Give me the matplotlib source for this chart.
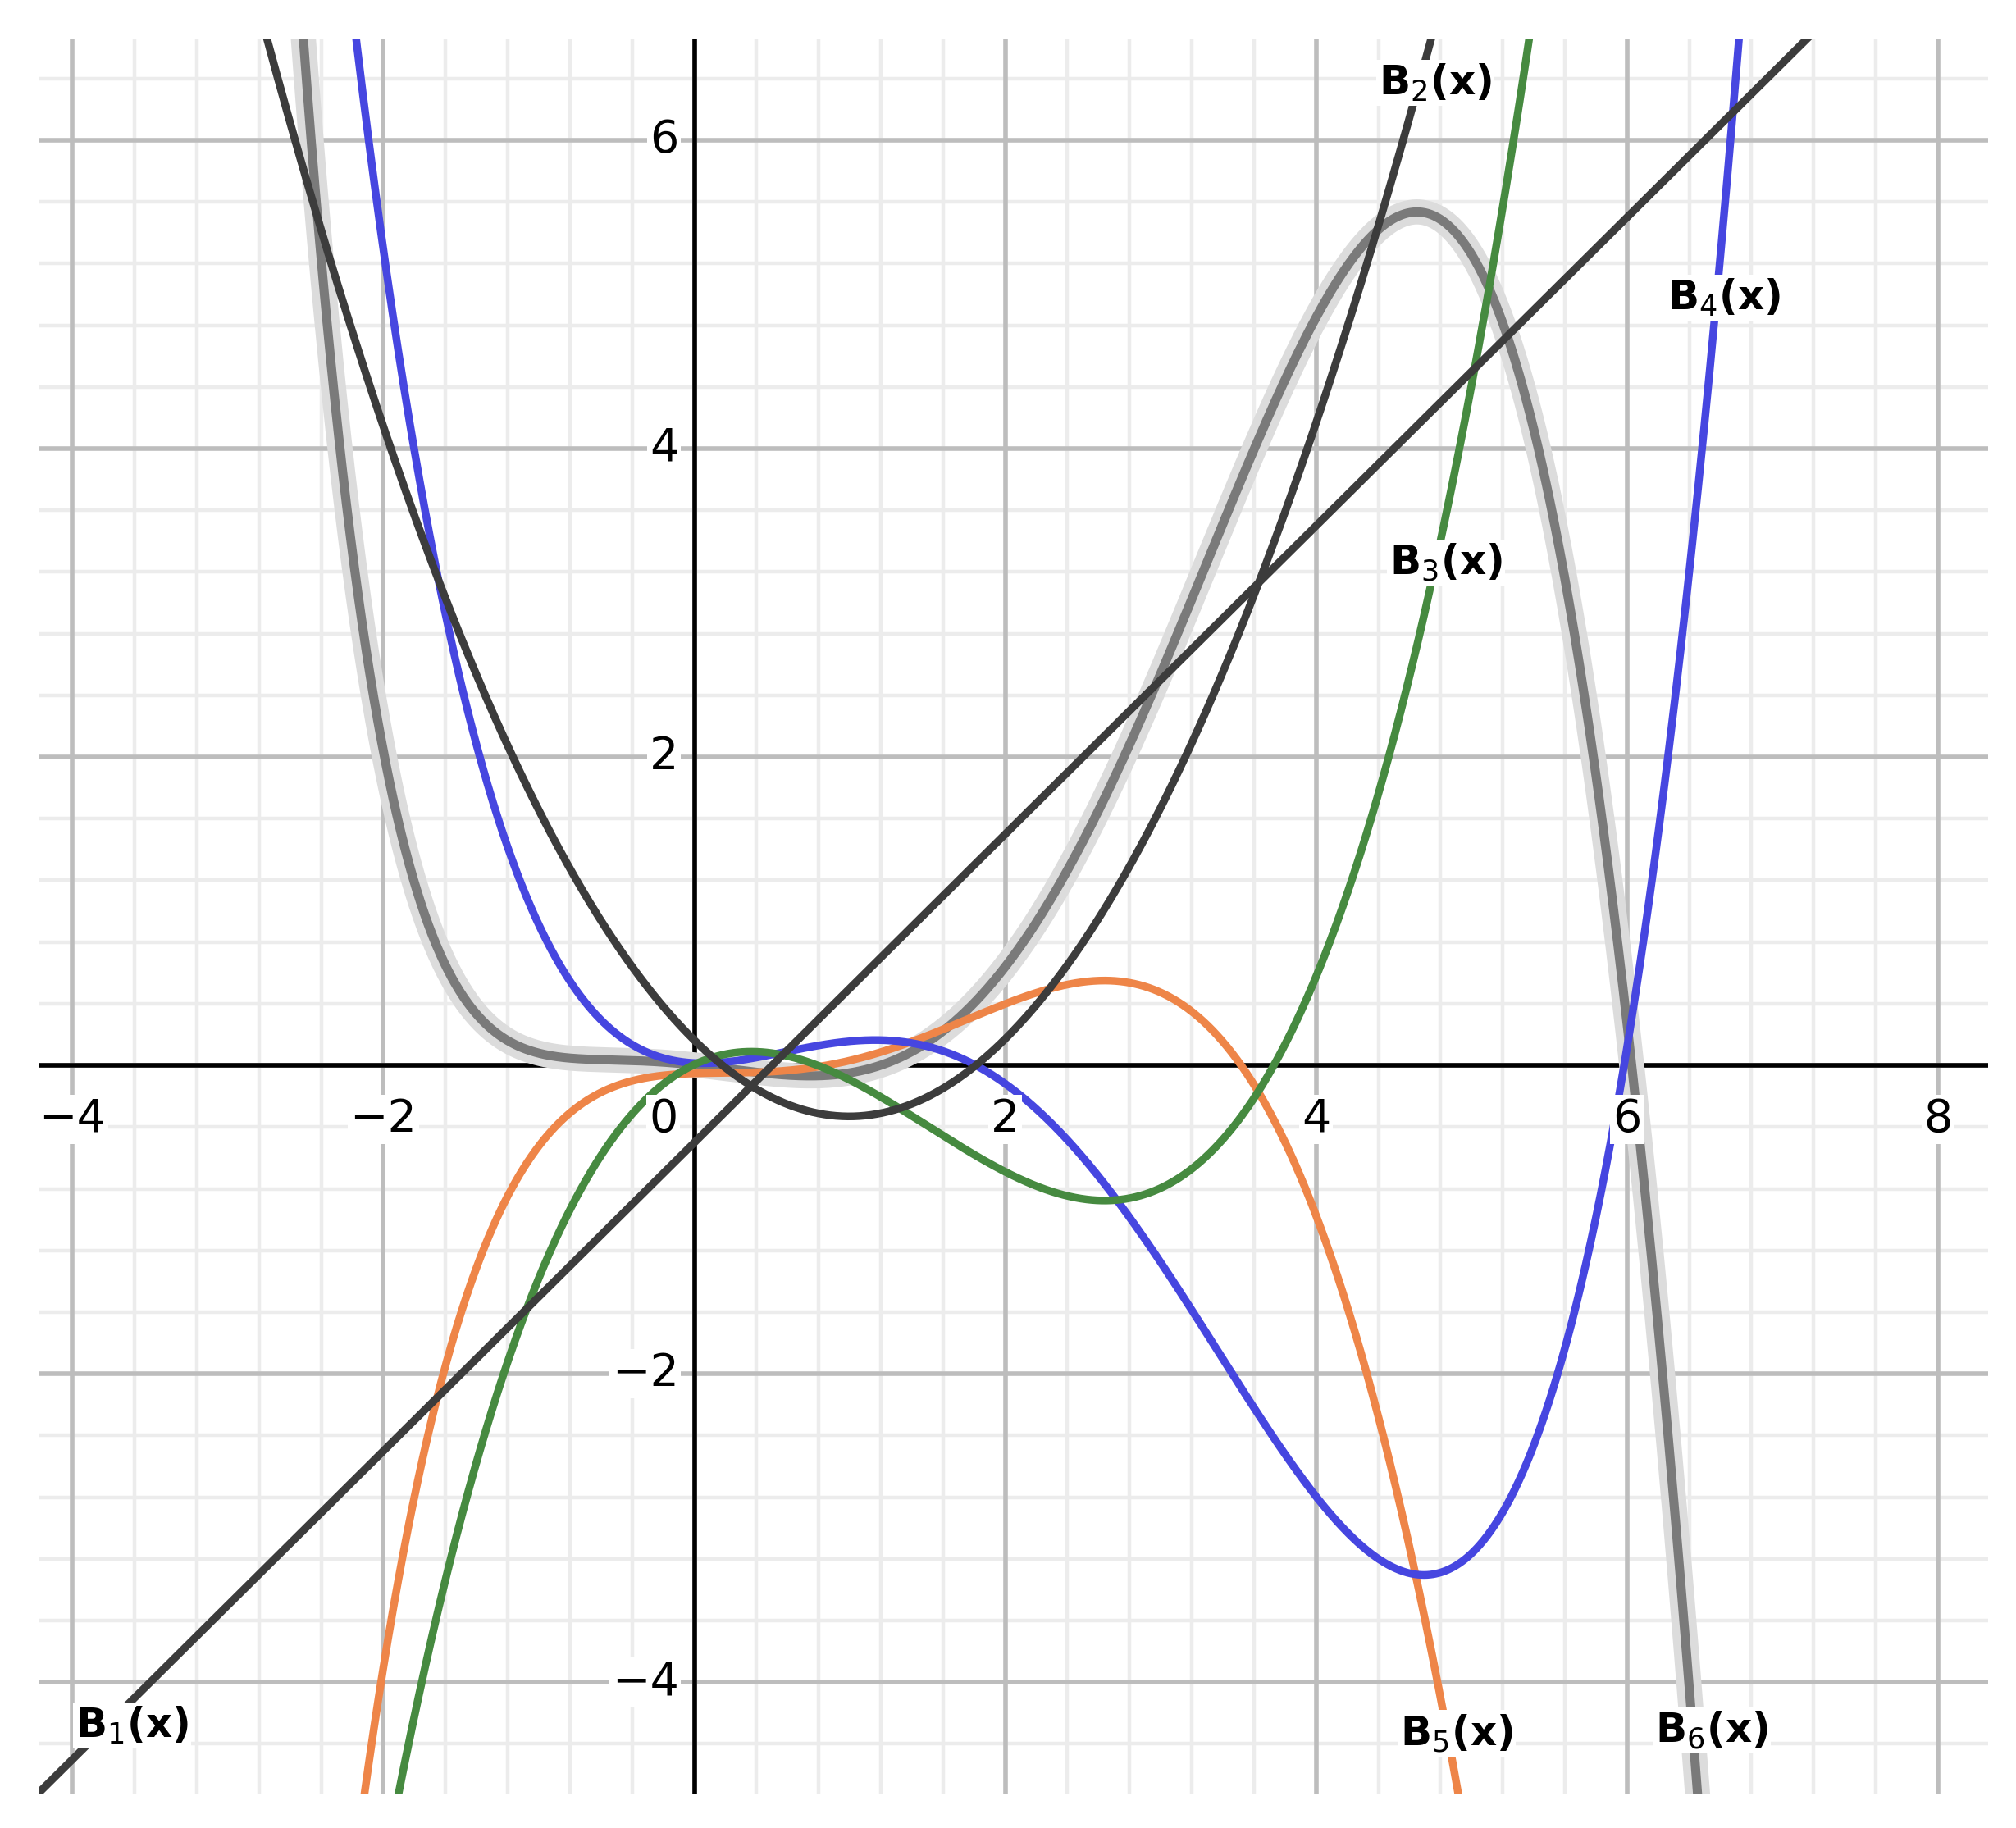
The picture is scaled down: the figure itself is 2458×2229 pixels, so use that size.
import numpy as np
import matplotlib.pyplot as plt

# points for each curve (x, y)
b1_x = [-4.0, 6.0]
b1_y = [-4.5, 5.5]
b2_x = [-2.0, 0.0, 0.9, 2.0, 4.0]
b2_y = [4.14, 0.17, -0.33, 0.17, 4.17]
b3_x = [-1.89, -1.1, 0.0, 0.36, 1.2, 2.55, 3.63, 4.0, 4.75, 5.35]
b3_y = [-4.68, -1.56, -0.09, 0.1, -0.2, -0.85, 0.0, 0.44, 3.08, 6.59]
b4_x = [-2.16, -1.66, -1.0, -0.5, 0.0, 1.28, 2.06, 2.76, 3.3, 4.72, 5.96, 6.72]
b4_y = [6.59, 3.15, 0.89, 0.17, 0.02, 0.21, 0.0, -0.88, -2.05, -3.26, 0.0, 6.59]
b5_x = [-2.12, -1.66, -1.1, -0.5, -0.2, 0.0, 0.5, 1.0, 1.5, 2.6, 3.55, 4.0, 4.91]
b5_y = [-4.68, -2.2, -0.77, -0.05, -0.01, -0.01, -0.03, -0.05, 0.1, 0.66, 0.0, -1.07, -4.68]
b6_x = [-2.51, -2.0, -1.5, -1.0, -0.6, 0.0, 0.5, 1.0, 1.5, 2.06, 3.0, 4.0, 4.72, 5.3, 5.7, 6.03, 6.45]
b6_y = [6.59, 2.02, 0.51, 0.06, 0.0, 0.0, 0.0, 0.0, 0.1, 0.59, 2.78, 4.59, 5.72, 4.44, 2.55, 0.0, -4.68]

labels = ["B$_1$(x)", "B$_2$(x)", "B$_3$(x)", "B$_4$(x)", "B$_5$(x)", "B$_6$(x)"]
label_pos = [(-3.98, -4.28), (4.4, 6.37), (4.47, 3.26), (6.26, 4.98), (4.54, -4.33), (6.18, -4.31)]

xmin, xmax, ymin, ymax = -4.22, 8.32, -4.72, 6.66

fig = plt.figure(figsize=(12.29, 11.145), dpi=200)
ax = fig.add_axes([0.019, 0.019, 0.967, 0.96])
ax.set_xlim(xmin, xmax)
ax.set_ylim(ymin, ymax)

# grid
for v in np.arange(-4.0, 8.4, 0.4):
    ax.axvline(v, color="#ececec", lw=1.6, zorder=0)
for v in np.arange(-4.4, 6.8, 0.4):
    ax.axhline(v, color="#ececec", lw=1.6, zorder=0)
for v in range(-4, 9, 2):
    ax.axvline(v, color="#bdbdbd", lw=2, zorder=0)
for v in range(-4, 7, 2):
    ax.axhline(v, color="#bdbdbd", lw=2, zorder=0)
ax.axhline(0, color="black", lw=2, zorder=1)
ax.axvline(0, color="black", lw=2, zorder=1)

xs = np.linspace(xmin, xmax, 2000)

def curve(px, py, deg):
    c = np.polyfit(px, py, deg)
    return np.polyval(c, xs)

b6 = curve(b6_x, b6_y, 8)
ax.plot(xs, b6, color="#dcdcdc", lw=11, zorder=2, solid_capstyle="round")
ax.plot(xs, b6, color="#7a7a7a", lw=4, zorder=3)
ax.plot(xs, curve(b5_x, b5_y, 5), color="#ee8548", lw=3.4, zorder=4)
ax.plot(xs, curve(b4_x, b4_y, 4), color="#4646e0", lw=3.4, zorder=4)
ax.plot(xs, curve(b3_x, b3_y, 3), color="#468a40", lw=3.4, zorder=4)
ax.plot(xs, curve(b2_x, b2_y, 2), color="#3c3c3c", lw=3.4, zorder=4)
ax.plot(xs, curve(b1_x, b1_y, 1), color="#3c3c3c", lw=3.4, zorder=4)

for t, (lx, ly) in zip(labels, label_pos):
    ax.text(lx, ly, t, fontsize=18, fontweight="bold", ha="left", va="center", zorder=6,
            bbox=dict(facecolor="white", edgecolor="none", pad=1))

# tick labels next to the axes
for v in range(-4, 9, 2):
    s = "0" if v == 0 else str(v).replace("-", "\u2212")
    ax.text(v - (0.2 if v == 0 else 0), -0.35, s, fontsize=20, ha="center", va="center",
            zorder=5, bbox=dict(facecolor="white", edgecolor="none", pad=1))
for v in [-4, -2, 2, 4, 6]:
    ax.text(-0.1, v, str(v).replace("-", "\u2212"), fontsize=20, ha="right", va="center",
            zorder=5, bbox=dict(facecolor="white", edgecolor="none", pad=1))

ax.set_xticks([])
ax.set_yticks([])
for s in ax.spines.values():
    s.set_visible(False)

fig.savefig("out.png", dpi=200, facecolor="white")
